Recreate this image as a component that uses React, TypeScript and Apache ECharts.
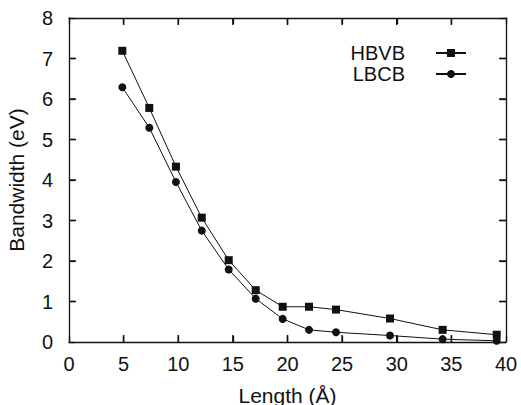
import React, { useEffect, useRef } from "react";
import * as echarts from "echarts";

const lengths = [4.88, 7.35, 9.79, 12.15, 14.62, 17.09, 19.56, 21.97, 24.44, 29.38, 34.2, 39.15];
const hbvb = [7.19, 5.78, 4.33, 3.07, 2.02, 1.28, 0.87, 0.87, 0.8, 0.58, 0.3, 0.18];
const lbcb = [6.29, 5.29, 3.95, 2.75, 1.79, 1.07, 0.57, 0.3, 0.24, 0.16, 0.07, 0.03];
const seriesNames = ["HBVB", "LBCB"];
const xTicks = [5, 10, 15, 20, 25, 30, 35];
const yTicks = [1, 2, 3, 4, 5, 6, 7];
const X_MIN = 0, X_MAX = 40, Y_MIN = 0, Y_MAX = 8;

const FONT = "'Liberation Sans', Arial, Helvetica, sans-serif";
const INK = "#111111";

export default function App() {
  const ref = useRef<HTMLDivElement>(null);
  useEffect(() => {
    if (!ref.current) return;
    const chart = echarts.init(ref.current, null, { renderer: "svg" });
    const pts = (ys: number[]) => lengths.map((x, i) => [x, ys[i]]);
    const mkLine = () => ({ show: true, onZero: false, lineStyle: { color: INK, width: 1.3 } });
    const mkTick = () => ({ show: true, inside: true, length: 6, lineStyle: { color: INK, width: 1.3 } });
    chart.setOption({
      animation: false,
      backgroundColor: "#fff",
      grid: { left: 69, right: 15, top: 18, bottom: 63, outerBoundsMode: "none", containLabel: false },
      legend: {
        orient: "vertical",
        right: 49,
        top: 38,
        align: "right",
        itemWidth: 30,
        itemHeight: 10,
        itemGap: 1,
        data: seriesNames,
        textStyle: { fontFamily: FONT, fontSize: 20, color: INK, padding: [0, 26, 0, 0] },
      },
      xAxis: [
        {
          type: "value",
          min: X_MIN,
          max: X_MAX,
          interval: 5,
          name: "Length (Å)",
          nameLocation: "middle",
          nameGap: 43,
          nameTextStyle: { fontFamily: FONT, fontSize: 21, color: INK },
          axisLine: mkLine(),
          axisTick: mkTick(),
          splitLine: { show: false },
          axisLabel: { fontFamily: FONT, fontSize: 20, color: INK, margin: 12 },
        },
        {
          type: "value",
          position: "top",
          min: X_MIN,
          max: X_MAX,
          interval: 5,
          axisLine: mkLine(),
          axisTick: mkTick(),
          splitLine: { show: false },
          axisLabel: { show: false },
        },
      ],
      yAxis: [
        {
          type: "value",
          min: Y_MIN,
          max: Y_MAX,
          interval: 1,
          name: "Bandwidth (eV)",
          nameLocation: "middle",
          nameGap: 42,
          nameTextStyle: { fontFamily: FONT, fontSize: 21, color: INK },
          axisLine: mkLine(),
          axisTick: mkTick(),
          splitLine: { show: false },
          axisLabel: { fontFamily: FONT, fontSize: 20, color: INK, margin: 16 },
        },
        {
          type: "value",
          position: "right",
          min: Y_MIN,
          max: Y_MAX,
          interval: 1,
          axisLine: mkLine(),
          axisTick: mkTick(),
          splitLine: { show: false },
          axisLabel: { show: false },
        },
      ],
      series: [
        {
          name: seriesNames[0],
          type: "line",
          data: pts(hbvb),
          symbol: "rect",
          symbolSize: 8,
          itemStyle: { color: INK },
          lineStyle: { color: INK, width: 1 },
        },
        {
          name: seriesNames[1],
          type: "line",
          data: pts(lbcb),
          symbol: "circle",
          symbolSize: 8,
          itemStyle: { color: INK },
          lineStyle: { color: INK, width: 1 },
        },
      ],
    });

    // Extra tick marks on all four sides, positioned through the chart's own scales
    const TL = 7;
    const px = (x: number, y: number) => chart.convertToPixel({ gridIndex: 0 }, [x, y]) as number[];
    const ticks: any[] = [];
    const tickStyle = { stroke: INK, lineWidth: 1.5 };
    xTicks.forEach((x) => {
      const b = px(x, Y_MIN);
      const t = px(x, Y_MAX);
      if (b && t) {
        ticks.push({ type: "line", z: 100, shape: { x1: b[0], y1: b[1], x2: b[0], y2: b[1] - TL }, style: tickStyle });
        ticks.push({ type: "line", z: 100, shape: { x1: t[0], y1: t[1], x2: t[0], y2: t[1] + TL }, style: tickStyle });
      }
    });
    yTicks.forEach((y) => {
      const l = px(X_MIN, y);
      const r = px(X_MAX, y);
      if (l && r) {
        ticks.push({ type: "line", z: 100, shape: { x1: l[0], y1: l[1], x2: l[0] + TL, y2: l[1] }, style: tickStyle });
        ticks.push({ type: "line", z: 100, shape: { x1: r[0], y1: r[1], x2: r[0] - TL, y2: r[1] }, style: tickStyle });
      }
    });
    chart.setOption({ graphic: ticks });

    return () => chart.dispose();
  }, []);
  return <div ref={ref} style={{ width: 521, height: 405, position: "absolute", left: 0, top: 0 }} />;
}
